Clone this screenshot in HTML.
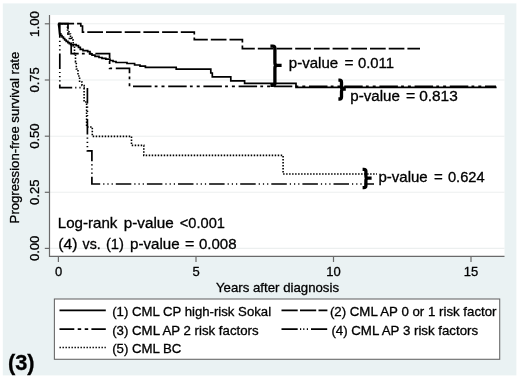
<!DOCTYPE html>
<html><head><meta charset="utf-8"><title>Progression-free survival</title>
<style>
html,body{margin:0;padding:0;background:#fff;width:520px;height:379px;overflow:hidden}
svg{display:block;will-change:transform}
text{font-family:"Liberation Sans",sans-serif;fill:#000;stroke:#000;stroke-width:0.3px}
</style></head><body>
<svg width="520" height="379" viewBox="0 0 520 379">
<rect x="2.8" y="3.4" width="513.6" height="372" fill="#EAF2F3"/>
<rect x="49.5" y="15" width="455" height="241" fill="#fff"/>
<g stroke="#ECEFEF" stroke-width="1.1">
<line x1="50" y1="23.8" x2="504.5" y2="23.8"/>
<line x1="50" y1="80.0" x2="504.5" y2="80.0"/>
<line x1="50" y1="136.2" x2="504.5" y2="136.2"/>
<line x1="50" y1="192.3" x2="504.5" y2="192.3"/>
<line x1="50" y1="248.4" x2="504.5" y2="248.4"/>
</g>
<g stroke="#6a6a6a" stroke-width="1.2" fill="none">
<line x1="49.5" y1="15" x2="49.5" y2="256.3"/>
<line x1="48.9" y1="256.3" x2="504.5" y2="256.3"/>
<line x1="44.8" y1="23.8" x2="49.5" y2="23.8"/>
<line x1="44.8" y1="80.0" x2="49.5" y2="80.0"/>
<line x1="44.8" y1="136.2" x2="49.5" y2="136.2"/>
<line x1="44.8" y1="192.3" x2="49.5" y2="192.3"/>
<line x1="44.8" y1="248.4" x2="49.5" y2="248.4"/>
<line x1="58.4" y1="256.3" x2="58.4" y2="262"/>
<line x1="196.0" y1="256.3" x2="196.0" y2="262"/>
<line x1="333.5" y1="256.3" x2="333.5" y2="262"/>
<line x1="471.0" y1="256.3" x2="471.0" y2="262"/>
</g>
<g fill="none" stroke="#000" stroke-width="1.7">

<!-- (2) long dash -->
<path stroke-dasharray="15.7 3" d="M58.4,23.7 H80.8 V26 H82.5 V32.2 H194.3 V39.6 H242.4 V48.7 H420"/>
<!-- (3) long-short-short -->
<path stroke-dasharray="18.5 3.2 2.8 4.0 3.0 3.7" stroke-dashoffset="3.5" d="M58.4,23.7 H68 V38.5 H71.2 V53.6 H109.6 V68.4 H129.5 V86.4 H496"/>
<!-- (4) long-dot-dot-dot -->
<path stroke-dasharray="15.5 3 1.2 3 1.2 3 1.2 3" d="M58.4,23.7 H59.8 V87.6 H87.4 V150.9 H91.9 V184 H374"/>
<!-- (5) dotted -->
<path stroke-width="1.6" stroke-dasharray="1.5 1.5" d="M58.4,23.7 H67.5 V30 H69 V34 H70.5 V37.5 H72 V40 H73.2 V46 H74.5 V54 H75.5 V62 H76.3 V69 H78 V76 H79.6 V82 H82 V85.5 H84.1 V102 H86.6 V127 H92.3 V136.4 H131.5 V145.4 H143.8 V155.4 H283.1 V174 H377"/>
<!-- (1) solid -->
<path d="M58.4,23.7 L59,28 L59.6,33.8 H60.8 V35.5 H62 V37 H63.4 V38.5 H64.7 V40 H66.2 V41.3 H67.9 V42.6 H69.3 V43.7 H70.7 V44.7 H76.2 V45.6 H78.5 V47.4 H80.3 V49.4 H83 V50.6 H87.7 V51.6 H90 V53.8 H92 V55.2 H95 V56.3 H99 V57.5 H102 V58.4 H105.8 V59.2 H110 V60.5 H113 V61.5 H116 V62.5 H127 V63.5 H134.6 V65 H140 V66.2 H145.4 V67.4 H176.2 V69.2 H210.8 V73 H212.3 V76.9 H230.8 V80.8 H244.6 V83.3 H296 V87.4 H496.6"/>

</g>
<g fill="none" stroke="#000" stroke-width="3.3" stroke-linejoin="round">

<path d="M270.4,46.1 H272.8 Q274.9,46.1 274.9,48.3 V63 Q274.9,65.4 277.3,65.4 H281.6 M277.3,65.4 Q274.9,65.4 274.9,67.8 V83.3 Q274.9,85.4 272.8,85.4 H270.4"/>
<path d="M338.4,80.2 H339.5 Q341.5,80.2 341.5,82.2 V87 Q341.5,89.2 343.5,89.2 H345.8 M343.5,89.2 Q341.5,89.2 341.5,91.4 V97 Q341.5,99 339.5,99 H338.4"/>
<path d="M362.6,169.3 H363.8 Q365.9,169.3 365.9,171.3 V176 Q365.9,178.2 368,178.2 H371.6 M368,178.2 Q365.9,178.2 365.9,180.4 V185.6 Q365.9,187.7 363.8,187.7 H362.6"/>

</g>
<rect x="54.4" y="299" width="445.3" height="60.3" fill="#fff" stroke="#6a6a6a" stroke-width="1.1"/>
<g fill="none" stroke="#000" stroke-width="1.8">
<line x1="59.5" y1="310.4" x2="105.8" y2="310.4"/>
<line x1="59.5" y1="329.2" x2="105.8" y2="329.2" stroke-dasharray="14.8 3.4 3.5 3.5 3.5 3.2"/>
<line x1="59.5" y1="347.4" x2="105.8" y2="347.4" stroke-width="1.5" stroke-dasharray="1.4 1.6"/>
<line x1="281.5" y1="310.4" x2="327.4" y2="310.4" stroke-dasharray="16.2 2.3"/>
<line x1="281.5" y1="329.2" x2="327.9" y2="329.2" stroke-dasharray="16.2 2.3 1.2 2 1.2 2.4 1.2 3"/>
</g>
<text transform="translate(38.90,36.91) rotate(-90) scale(0.9871,1)" font-size="13.5">1.00</text>
<text transform="translate(38.90,92.61) rotate(-90) scale(0.9691,1)" font-size="13.5">0.75</text>
<text transform="translate(38.90,148.81) rotate(-90) scale(0.9676,1)" font-size="13.5">0.50</text>
<text transform="translate(38.90,204.91) rotate(-90) scale(0.9691,1)" font-size="13.5">0.25</text>
<text transform="translate(38.90,261.01) rotate(-90) scale(0.9676,1)" font-size="13.5">0.00</text>
<text transform="translate(18.60,223.38) rotate(-90) scale(0.9969,1)" font-size="13.2">Progression-free survival rate</text>
<text transform="translate(54.99,276.40) scale(1.0000,1)" font-size="13">0</text>
<text transform="translate(192.60,276.40) scale(1.0000,1)" font-size="13">5</text>
<text transform="translate(326.23,276.40) scale(1.0000,1)" font-size="13">10</text>
<text transform="translate(463.75,276.40) scale(1.0000,1)" font-size="13">15</text>
<text transform="translate(216.01,291.80) scale(1.0177,1)" font-size="13">Years after diagnosis</text>
<text transform="translate(288.84,67.90) scale(1.0741,1)" font-size="14.0">p-value</text>
<text transform="translate(344.44,67.90) scale(1.1023,1)" font-size="14.0">=</text>
<text transform="translate(357.92,67.90) scale(1.0623,1)" font-size="14.0">0.011</text>
<text transform="translate(350.33,101.30) scale(1.0786,1)" font-size="14.0">p-value</text>
<text transform="translate(405.92,101.30) scale(1.1317,1)" font-size="14.0">=</text>
<text transform="translate(419.20,101.30) scale(1.1014,1)" font-size="14.0">0.813</text>
<text transform="translate(378.44,181.60) scale(1.0741,1)" font-size="14.0">p-value</text>
<text transform="translate(434.06,181.60) scale(1.0729,1)" font-size="14.0">=</text>
<text transform="translate(447.93,181.60) scale(1.0477,1)" font-size="14.0">0.624</text>
<text transform="translate(57.76,227.70) scale(1.0224,1)" font-size="14.8">Log-rank</text>
<text transform="translate(123.82,227.70) scale(1.0310,1)" font-size="14.8">p-value</text>
<text transform="translate(179.78,227.70) scale(0.9882,1)" font-size="14.8">&lt;0.001</text>
<text transform="translate(58.33,249.00) scale(1.0584,1)" font-size="14.8">(4)</text>
<text transform="translate(82.54,249.00) scale(0.9595,1)" font-size="14.8">vs.</text>
<text transform="translate(105.89,249.00) scale(0.9969,1)" font-size="14.8">(1)</text>
<text transform="translate(130.03,249.00) scale(1.0225,1)" font-size="14.8">p-value</text>
<text transform="translate(184.91,249.00) scale(1.0844,1)" font-size="14.8">=</text>
<text transform="translate(198.91,249.00) scale(1.0163,1)" font-size="14.8">0.008</text>
<text transform="translate(112.18,316.20) scale(1.0228,1)" font-size="12.9">(1) CML CP high-risk Sokal</text>
<text transform="translate(112.18,335.20) scale(1.0276,1)" font-size="12.9">(3) CML AP 2 risk factors</text>
<text transform="translate(112.18,353.00) scale(1.0250,1)" font-size="12.9">(5) CML BC</text>
<text transform="translate(329.88,316.20) scale(1.0298,1)" font-size="12.9">(2) CML AP 0 or 1 risk factor</text>
<text transform="translate(331.38,335.20) scale(1.0297,1)" font-size="12.9">(4) CML AP 3 risk factors</text>
<text transform="translate(7.91,369.90) scale(1.0156,1)" font-size="21.5" font-weight="bold">(3)</text>
</svg>
</body></html>
